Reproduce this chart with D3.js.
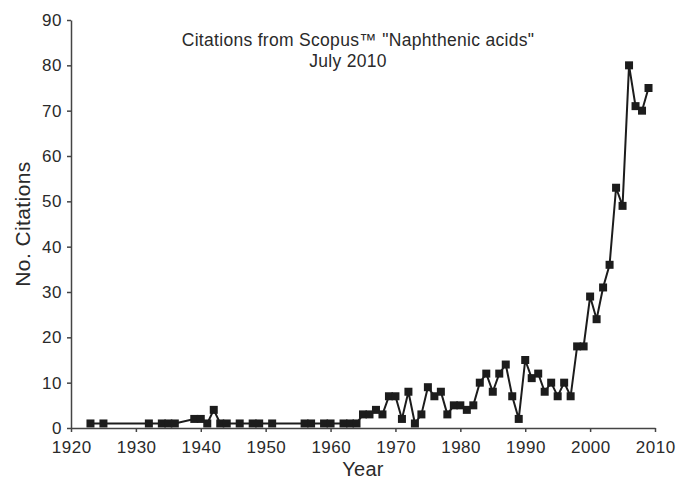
<!DOCTYPE html>
<html>
<head>
<meta charset="utf-8">
<script src="https://cdn.jsdelivr.net/npm/d3@7"></script>
<style>
  html, body { margin: 0; padding: 0; background: #fff; }
  svg { display: block; font-family: "Liberation Sans", Arial, Helvetica, sans-serif; }
</style>
</head>
<body>
<svg id="chart" width="680" height="479"></svg>
<script>
// Yearly citation counts for "Naphthenic acids" (Scopus, July 2010)
const years = [1923, 1925, 1932, 1934, 1935, 1936, 1939, 1940, 1941, 1942, 1943, 1944,
  1946, 1948, 1949, 1951, 1956, 1957, 1959, 1960, 1962, 1963, 1964, 1965, 1966, 1967,
  1968, 1969, 1970, 1971, 1972, 1973, 1974, 1975, 1976, 1977, 1978, 1979, 1980, 1981,
  1982, 1983, 1984, 1985, 1986, 1987, 1988, 1989, 1990, 1991, 1992, 1993, 1994, 1995,
  1996, 1997, 1998, 1999, 2000, 2001, 2002, 2003, 2004, 2005, 2006, 2007, 2008, 2009];
const citations = [1, 1, 1, 1, 1, 1, 2, 2, 1, 4, 1, 1,
  1, 1, 1, 1, 1, 1, 1, 1, 1, 1, 1, 3, 3, 4,
  3, 7, 7, 2, 8, 1, 3, 9, 7, 8, 3, 5, 5, 4,
  5, 10, 12, 8, 12, 14, 7, 2, 15, 11, 12, 8, 10, 7,
  10, 7, 18, 18, 29, 24, 31, 36, 53, 49, 80, 71, 70, 75];
const xTicks = [1920, 1930, 1940, 1950, 1960, 1970, 1980, 1990, 2000, 2010];
const yTicks = [0, 10, 20, 30, 40, 50, 60, 70, 80, 90];
const titleLines = ["Citations from Scopus\u2122 \"Naphthenic acids\"", "July 2010"];
const xTitle = "Year";
const yTitle = "No. Citations";

const points = years.map((yr, i) => ({ year: yr, value: citations[i] }));

const svg = d3.select("#chart");
const plotLeft = 71, plotRight = 655, plotTop = 20, plotBottom = 428;
const ink = "#2a2a2a";
const axisInk = "#444";

const x = d3.scaleLinear().domain([1920, 2010]).range([plotLeft, plotRight]);
const y = d3.scaleLinear().domain([0, 90]).range([plotBottom, plotTop]);

// Axes
const xAxis = svg.append("g")
  .attr("transform", `translate(0,${plotBottom})`)
  .call(d3.axisBottom(x).tickValues(xTicks).tickFormat(d3.format("d"))
    .tickSize(4).tickSizeOuter(0).tickPadding(9));
const yAxis = svg.append("g")
  .attr("transform", `translate(${plotLeft},0)`)
  .call(d3.axisLeft(y).tickValues(yTicks).tickSize(4).tickSizeOuter(0).tickPadding(5));

[xAxis, yAxis].forEach(g => {
  g.select(".domain").attr("stroke", axisInk).attr("stroke-width", 1.5);
  g.selectAll(".tick line").attr("stroke", axisInk).attr("stroke-width", 1.5);
  g.selectAll(".tick text")
    .attr("fill", ink)
    .style("font-family", "'Liberation Sans', Arial, sans-serif")
    .style("font-size", "17px")
    .style("letter-spacing", "0.5px");
});
xAxis.selectAll(".tick text").attr("dx", "0.25px");

// Citation series
svg.append("path")
  .datum(points)
  .attr("fill", "none")
  .attr("stroke", "#1c1c1c")
  .attr("stroke-width", 2)
  .attr("stroke-linejoin", "miter")
  .attr("d", d3.line().x(d => x(d.year)).y(d => y(d.value)));

const m = 8;
svg.append("g").selectAll("rect")
  .data(points)
  .join("rect")
  .attr("x", d => x(d.year) - m / 2)
  .attr("y", d => y(d.value) - m / 2)
  .attr("width", m)
  .attr("height", m)
  .attr("fill", "#1c1c1c");

// Title
svg.append("text")
  .attr("x", 358).attr("y", 46)
  .attr("text-anchor", "middle")
  .attr("fill", ink)
  .style("font-size", "17.5px")
  .style("letter-spacing", "0.3px")
  .text(titleLines[0]);
svg.append("text")
  .attr("x", 348).attr("y", 66.5)
  .attr("text-anchor", "middle")
  .attr("fill", ink)
  .style("font-size", "17.5px")
  .style("letter-spacing", "0.3px")
  .text(titleLines[1]);

// Axis titles
svg.append("text")
  .attr("x", (plotLeft + plotRight) / 2).attr("y", 476)
  .attr("text-anchor", "middle")
  .attr("fill", ink)
  .style("font-size", "20px")
  .style("letter-spacing", "0.3px")
  .text(xTitle);
svg.append("text")
  .attr("transform", `translate(30,${(plotTop + plotBottom) / 2}) rotate(-90)`)
  .attr("text-anchor", "middle")
  .attr("fill", ink)
  .style("font-size", "21px")
  .style("letter-spacing", "0.4px")
  .text(yTitle);
</script>
</body>
</html>
